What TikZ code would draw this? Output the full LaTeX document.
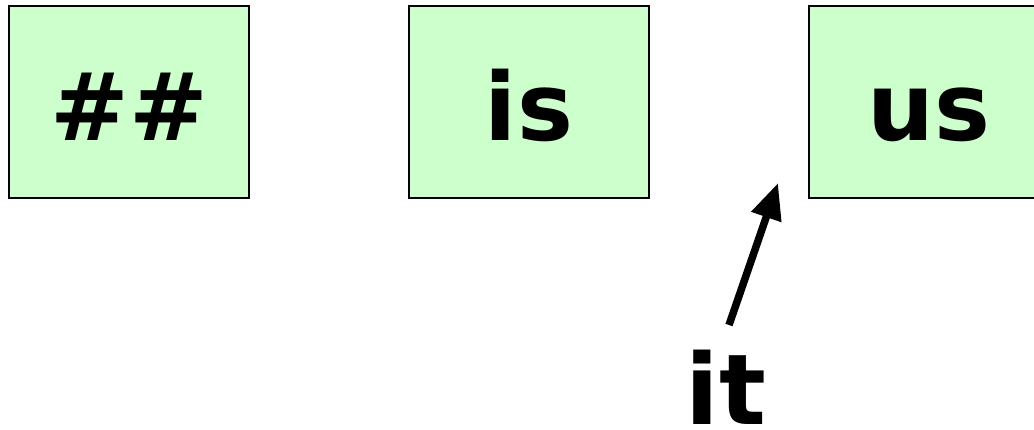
\documentclass[tikz,border=0pt]{standalone}
\usepackage{fontspec}
\setmainfont{DejaVu Sans}
\usetikzlibrary{arrows.meta}
\definecolor{boxgreen}{HTML}{CCFFCC}
\tikzset{
  wordbox/.style={draw=black, line width=2pt, fill=boxgreen},
  bigtext/.style={font=\fontsize{94}{94}\selectfont\bfseries, inner sep=0pt, anchor=base},
  pointer/.style={line width=7.5pt, -{Triangle[length=36pt,width=30pt]}}
}
\begin{document}
\begin{tikzpicture}[x=1pt,y=-1pt]
\useasboundingbox (0,0) rectangle (1034,429);
\begin{scope}
\clip (0,0) rectangle (1034,429);
\draw[wordbox] (9,6) rectangle (249,198);
\draw[wordbox] (409,6) rectangle (649,198);
\draw[wordbox] (809,6) rectangle (1051,198);
\node[bigtext] (hash) at (129,140) {\#\#};
\node[bigtext] (is) at (529,140) {is};
\node[bigtext] (us) at (929,140) {us};
\node[bigtext, font=\fontsize{98}{98}\selectfont\bfseries] (it) at (726,424) {it};
\coordinate (tail) at (729,325);
\coordinate (tip) at (778,183);
\draw[pointer] (tail) -- (tip);
\end{scope}
\end{tikzpicture}
\end{document}
